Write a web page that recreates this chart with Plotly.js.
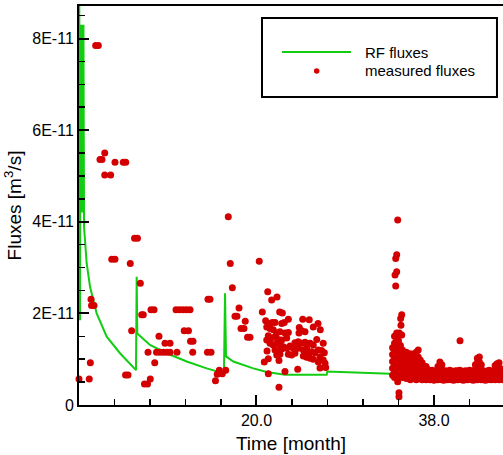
<!DOCTYPE html>
<html>
<head>
<meta charset="utf-8">
<script src="https://cdn.plot.ly/plotly-3.0.1.min.js"></script>
<style>html,body{margin:0;padding:0;background:#fff;}#chart{width:503px;height:455px;}</style>
</head>
<body>
<div id="chart"></div>
<script>
// Units: months (x) and 1E-11 m^3/s (y)
const UNIT = 1e-11;

// RF fluxes (model line)
const rfX = [2.02, 2.1, 2.15, 2.2, 2.25, 2.3, 2.35, 2.4, 2.45, 2.51, 2.78, 3.12, 3.79, 4.81, 6.16, 7.78, 7.85, 7.91, 9.20, 10.89, 12.92, 14.95, 16.70, 16.81, 16.91, 17.65, 19.68, 21.04, 22.89, 27.12, 27.18, 33.54, 36.0];
const rfY = [9.5, 1.85, 8.3, 4.2, 8.3, 4.2, 8.3, 4.2, 8.3, 3.89, 3.09, 2.58, 2.00, 1.49, 1.13, 0.76, 2.80, 1.56, 1.31, 1.13, 0.95, 0.80, 0.69, 2.44, 1.06, 0.95, 0.80, 0.72, 0.66, 0.66, 0.73, 0.68, 0.68];

// Measured fluxes: early months (scattered)
const earlyX = [2.0, 3.04, 3.15, 3.22, 3.27, 3.52, 3.69, 3.96, 4.13, 4.33, 4.61, 4.61, 5.21, 5.65, 6.49, 6.74, 5.32, 5.65, 7.20, 7.63, 7.93, 8.22, 7.34, 6.72, 6.97, 8.36, 8.52, 8.64, 8.95, 9.23, 9.00, 9.30, 9.61, 9.68, 9.86, 10.11, 10.21, 10.57, 10.72, 10.92, 11.23, 11.23, 11.94, 11.84, 12.19, 12.55, 12.90, 13.26, 12.67, 13.10, 13.31, 13.56, 13.53, 15.03, 15.39, 15.08, 15.28, 15.84, 16.02, 16.23, 16.53, 16.88, 17.14, 17.34, 17.55, 18.23, 17.82, 18.02, 18.86, 18.43, 18.73, 19.09, 19.34, 20.28];
const earlyY = [0.57, 0.57, 0.92, 2.31, 2.17, 2.17, 7.85, 7.85, 5.36, 5.36, 5.50, 5.02, 5.02, 5.30, 5.30, 5.30, 3.18, 3.18, 3.09, 3.64, 3.64, 2.66, 1.62, 0.655, 0.655, 1.97, 1.97, 0.46, 0.46, 0.57, 1.15, 2.08, 2.08, 0.92, 1.15, 1.50, 1.15, 1.15, 1.35, 1.15, 1.35, 1.15, 1.15, 2.08, 2.08, 2.08, 2.08, 2.08, 1.62, 1.62, 1.39, 1.39, 1.15, 1.15, 1.15, 2.31, 2.31, 0.53, 0.67, 0.76, 0.68, 0.76, 4.11, 3.09, 2.56, 2.12, 1.94, 1.94, 1.83, 1.67, 1.67, 1.48, 1.48, 3.14];

// Measured fluxes: cluster around months 20.5-27
const midX = [21.14, 21.54, 22.08, 20.59, 22.35, 22.62, 23.23, 20.93, 21.20, 21.60, 21.88, 22.56, 22.82, 24.69, 25.35, 26.24, 25.76, 26.47, 24.34, 24.58, 24.92, 21.04, 21.37, 21.70, 22.05, 22.38, 22.89, 23.23, 24.31, 21.20, 21.54, 21.88, 22.21, 22.56, 23.06, 21.04, 21.37, 21.70, 22.05, 22.38, 26.11, 23.90, 24.24, 24.58, 24.92, 25.43, 25.76, 26.77, 22.72, 23.06, 23.40, 23.73, 21.88, 22.21, 22.56, 24.24, 24.75, 25.09, 26.27, 26.61, 21.07, 23.23, 23.57, 23.90, 25.25, 25.60, 25.93, 26.88, 22.05, 22.38, 21.20, 24.75, 25.09, 25.43, 25.76, 26.44, 26.77, 20.79, 22.28, 26.27, 26.95, 27.02, 26.44, 24.18, 22.89, 21.20, 22.28];
const midY = [2.47, 2.29, 2.36, 2.03, 2.03, 2.01, 1.87, 1.84, 1.78, 1.80, 1.80, 1.78, 1.80, 1.87, 1.86, 1.78, 1.70, 1.64, 1.69, 1.62, 1.60, 1.70, 1.67, 1.64, 1.57, 1.60, 1.57, 1.58, 1.57, 1.51, 1.46, 1.49, 1.43, 1.42, 1.46, 1.42, 1.35, 1.31, 1.35, 1.31, 1.43, 1.36, 1.38, 1.35, 1.37, 1.35, 1.31, 1.35, 1.27, 1.24, 1.29, 1.24, 1.20, 1.16, 1.22, 1.24, 1.20, 1.24, 1.20, 1.19, 1.18, 1.11, 1.09, 1.13, 1.13, 1.16, 1.14, 1.14, 1.09, 1.11, 1.01, 1.07, 1.04, 1.02, 1.00, 1.04, 0.98, 0.94, 0.97, 0.94, 0.91, 0.82, 0.81, 0.78, 0.73, 0.68, 0.39];

// Measured fluxes: spike at month ~34
const spikeX = [34.32, 34.22, 34.12, 34.22, 34.05, 34.12, 34.73, 34.62, 34.65, 34.22, 34.48, 34.73, 34.32, 34.45, 34.45, 40.64];
const spikeY = [4.04, 3.28, 3.20, 2.91, 2.84, 2.60, 1.97, 1.89, 1.74, 1.57, 1.57, 1.53, 0.51, 0.27, 0.18, 1.40];

// Measured fluxes: dense band from month ~34 to 45 (columns)
const bandX = [33.8, 34.0, 34.2, 34.4, 34.6, 34.8, 35.0, 35.2, 35.4, 35.6, 35.8, 36.0, 36.2, 36.4, 36.6, 36.8,
  37.0, 37.2, 37.4, 37.6, 37.8, 38.0, 38.2, 38.4, 38.6, 38.8, 39.0, 39.2, 39.4, 39.6, 39.8, 40.0, 40.2, 40.4, 40.6, 40.8,
  41.0, 41.2, 41.4, 41.6, 41.8, 42.0, 42.2, 42.4, 42.6, 42.8, 43.0, 43.2, 43.4, 43.6, 43.8, 44.0, 44.2, 44.4, 44.6, 44.8, 45.0];
const bandY = [
  [0.65, 0.80, 0.95, 1.10, 1.25], [0.60, 0.75, 0.90, 1.05, 1.20, 1.35, 1.50], [0.70, 0.85, 1.00, 1.15, 1.30, 1.45],
  [0.62, 0.78, 0.92, 1.08, 1.22, 1.40], [0.68, 0.82, 0.98, 1.12, 1.30], [0.60, 0.75, 0.90, 1.05, 1.20],
  [0.65, 0.80, 0.95, 1.10], [0.58, 0.72, 0.88, 1.02, 1.15], [0.62, 0.78, 0.92, 1.08], [0.55, 0.70, 0.85, 1.00, 1.12],
  [0.60, 0.75, 0.90, 1.05], [0.58, 0.72, 0.88, 1.00, 1.12], [0.55, 0.70, 0.85, 1.00, 1.15], [0.60, 0.75, 0.90, 1.05, 1.20],
  [0.58, 0.72, 0.85, 0.98], [0.55, 0.68, 0.80, 0.92],
  [0.56, 0.66, 0.76], [0.55, 0.65, 0.75, 0.84], [0.58, 0.68, 0.77], [0.55, 0.64, 0.73], [0.57, 0.67, 0.76],
  [0.54, 0.63, 0.72], [0.56, 0.66, 0.75], [0.55, 0.65, 0.75, 0.84], [0.57, 0.68, 0.80, 0.94], [0.55, 0.66, 0.77, 0.88],
  [0.54, 0.64, 0.73], [0.56, 0.66, 0.75], [0.55, 0.64, 0.72], [0.57, 0.67, 0.76], [0.55, 0.65, 0.74],
  [0.54, 0.64, 0.73], [0.56, 0.66, 0.75], [0.55, 0.65, 0.74], [0.57, 0.67, 0.76], [0.55, 0.65, 0.74],
  [0.54, 0.63, 0.72], [0.56, 0.66, 0.75], [0.55, 0.64, 0.73], [0.57, 0.67, 0.76], [0.55, 0.65, 0.74],
  [0.54, 0.64, 0.74], [0.56, 0.67, 0.78, 0.88], [0.55, 0.66, 0.78, 0.92, 1.02], [0.57, 0.69, 0.81, 0.94, 1.05],
  [0.55, 0.66, 0.77, 0.88], [0.56, 0.66, 0.75], [0.54, 0.63, 0.72], [0.55, 0.65, 0.74], [0.57, 0.67, 0.76],
  [0.55, 0.64, 0.73], [0.56, 0.66, 0.75], [0.55, 0.65, 0.76, 0.86], [0.56, 0.67, 0.78, 0.90], [0.55, 0.66, 0.78, 0.92],
  [0.57, 0.68, 0.79], [0.55, 0.65, 0.75]
];

// Axis ticks
const yTickVals = [0, 2, 4, 6, 8];
const yTickText = ['0', '2E-11', '4E-11', '6E-11', '8E-11'];
const xTickVals = [20, 38];
const xTickText = ['20.0', '38.0'];

// assemble measured series
const measX = [], measY = [];
[[earlyX, earlyY], [midX, midY], [spikeX, spikeY]].forEach(([xs, ys]) => {
  xs.forEach((x, i) => { measX.push(x); measY.push(ys[i] * UNIT); });
});
bandX.forEach((x, i) => bandY[i].forEach(v => { measX.push(x); measY.push(v * UNIT); }));

const FONT = 'Liberation Sans, Arial, Helvetica, sans-serif';
const GREEN = 'rgb(18,205,18)';
const RED = 'rgb(212,0,0)';

const traces = [
  {
    x: rfX, y: rfY.map(v => v * UNIT), type: 'scatter', mode: 'lines', name: 'RF fluxes',
    line: { color: GREEN, width: 2 }, showlegend: false, hoverinfo: 'skip'
  },
  {
    x: measX, y: measY, type: 'scatter', mode: 'markers', name: 'measured fluxes',
    marker: { color: RED, size: 7, line: { width: 0 } }, cliponaxis: false, showlegend: false
  }
];

// legend box geometry (paper coordinates)
const L = { x0: 0.4316, x1: 0.9858, y0: 0.772, y1: 0.970, rowA: 0.8847, rowB: 0.8371 };

const layout = {
  width: 503, height: 455,
  margin: { l: 79, r: 0, t: 6, b: 50, pad: 0 },
  paper_bgcolor: '#fff', plot_bgcolor: '#fff',
  font: { family: FONT, color: '#000', size: 16 },
  showlegend: false,
  xaxis: {
    range: [2, 45], showgrid: false, zeroline: false,
    showline: true, linecolor: '#000', linewidth: 2, mirror: true,
    ticks: 'inside', ticklen: 10, tickwidth: 2, tickcolor: '#000',
    tickmode: 'array', tickvals: xTickVals, ticktext: xTickText,
    tickfont: { size: 16, family: FONT },
    minor: { tickmode: 'linear', tick0: 2, dtick: 3.6, ticks: 'inside', ticklen: 6, tickwidth: 1.5, tickcolor: '#000', showgrid: false },
    title: { text: 'Time [month]', font: { size: 19, family: FONT }, standoff: 8 }
  },
  yaxis: {
    range: [0, 8.71e-11], showgrid: false, zeroline: false,
    showline: true, linecolor: '#000', linewidth: 2, mirror: false,
    ticks: 'inside', ticklen: 10, tickwidth: 2, tickcolor: '#000',
    tickmode: 'array', tickvals: yTickVals.map(v => v * UNIT), ticktext: yTickText,
    tickfont: { size: 16, family: FONT },
    minor: { tickmode: 'linear', tick0: 0, dtick: 0.5e-11, ticks: 'inside', ticklen: 6, tickwidth: 1.5, tickcolor: '#000', showgrid: false },
    title: { text: 'Fluxes [m<sup>3</sup>/s]', font: { size: 19, family: FONT }, standoff: 6 }
  },
  shapes: [
    { type: 'rect', xref: 'paper', yref: 'paper', x0: L.x0, x1: L.x1, y0: L.y0, y1: L.y1, line: { color: '#000', width: 2 }, fillcolor: 'rgba(255,255,255,0)' },
    { type: 'line', xref: 'paper', yref: 'paper', x0: 0.4788, x1: 0.6415, y0: L.rowA, y1: L.rowA, line: { color: GREEN, width: 2 } },
    { type: 'circle', xref: 'paper', yref: 'paper', x0: 0.5606 - 0.0065, x1: 0.5606 + 0.0065, y0: L.rowB - 0.0069, y1: L.rowB + 0.0069, line: { width: 0 }, fillcolor: RED }
  ],
  annotations: [
    { xref: 'paper', yref: 'paper', x: 0.6698, y: L.rowA, xanchor: 'left', yanchor: 'middle', text: 'RF fluxes', showarrow: false, font: { size: 15, family: FONT } },
    { xref: 'paper', yref: 'paper', x: 0.6698, y: L.rowB, xanchor: 'left', yanchor: 'middle', text: 'measured fluxes', showarrow: false, font: { size: 15, family: FONT } }
  ]
};

Plotly.newPlot('chart', traces, layout, { staticPlot: true, displayModeBar: false });
</script>
</body>
</html>
